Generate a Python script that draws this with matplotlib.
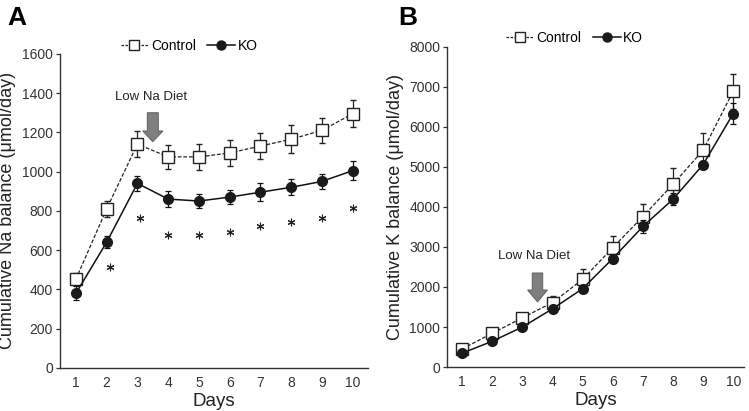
import numpy as np
import matplotlib.pyplot as plt
from matplotlib.patches import FancyArrow
from matplotlib.lines import Line2D

plt.rcParams['font.family'] = ['Liberation Sans', 'DejaVu Sans']

days = np.arange(1, 11)

# Panel A - cumulative Na balance
na_ctrl = [452, 810, 1140, 1075, 1075, 1095, 1130, 1165, 1210, 1295]
na_ctrl_err = [30, 40, 65, 60, 65, 65, 65, 70, 65, 70]
na_ko = [380, 640, 940, 860, 850, 870, 895, 920, 950, 1005]
na_ko_err = [35, 30, 40, 40, 35, 35, 45, 40, 40, 50]
star_days = [2.1, 3.1, 4, 5, 6, 7, 8, 9, 10]
star_y = [515, 765, 678, 678, 693, 724, 744, 764, 815]

# Panel B - cumulative K balance
k_ctrl = [455, 843, 1231, 1612, 2190, 2983, 3760, 4567, 5417, 6892]
k_ctrl_err = [40, 40, 50, 160, 250, 300, 320, 400, 440, 440]
k_ko = [347, 645, 1000, 1455, 1959, 2711, 3512, 4192, 5058, 6333]
k_ko_err = [40, 40, 50, 60, 60, 120, 170, 150, 100, 270]

fig = plt.figure(figsize=(7.49, 4.11), dpi=100)
axA = fig.add_axes([0.080, 0.105, 0.411, 0.764])
axB = fig.add_axes([0.597, 0.107, 0.396, 0.779])

ctrl_style = dict(color='#222222', ls=(0, (3, 1.5)), lw=0.9, marker='s',
                  mfc='white', mec='#222222', mew=1.0)
ko_style = dict(color='#111111', ls='-', lw=1.1, marker='o',
                mfc='#1a1a1a', mec='#1a1a1a')


def draw_panel(ax, ctrl, ctrl_err, ko, ko_err):
    ax.errorbar(days, ctrl, yerr=ctrl_err, ms=8, capsize=2.5, elinewidth=0.9,
                capthick=0.9, zorder=3, **ctrl_style)
    ax.errorbar(days, ko, yerr=ko_err, ms=7, capsize=2.5, elinewidth=0.9,
                capthick=0.9, zorder=4, **ko_style)
    for s in ['top', 'right']:
        ax.spines[s].set_visible(False)
    for s in ['left', 'bottom']:
        ax.spines[s].set_color('#333333')
        ax.spines[s].set_linewidth(1.0)
    ax.tick_params(axis='y', length=3, width=0.9, labelsize=10, colors='#333333', pad=2)
    ax.tick_params(axis='x', length=0, labelsize=10, colors='#333333', pad=6)
    ax.set_xticks(days)
    ax.set_xlabel('Days', fontsize=13.5, color='#222222', labelpad=2)


# Panel A
draw_panel(axA, na_ctrl, na_ctrl_err, na_ko, na_ko_err)
axA.set_xlim(0.48, 10.49)
axA.set_ylim(0, 1600)
axA.set_yticks(np.arange(0, 1601, 200))
axA.set_ylabel('Cumulative Na balance (\u03bcmol/day)', fontsize=13, color='#222222', labelpad=4)
axA.scatter(star_days, star_y, marker=(6, 2, 0), s=24, lw=0.8, color='#222222', zorder=5)
axA.add_patch(FancyArrow(3.5, 1300, 0, -148, width=0.36, head_width=0.66, head_length=55,
                         length_includes_head=True, fc='#7f7f7f', ec='#555555', lw=0.6,
                         zorder=5))
axA.text(3.45, 1380, 'Low Na Diet', ha='center', va='center', fontsize=9.5, color='#222222')

# Panel B
draw_panel(axB, k_ctrl, k_ctrl_err, k_ko, k_ko_err)
axB.set_xlim(0.5, 10.35)
axB.set_ylim(0, 8000)
axB.set_yticks(np.arange(0, 8001, 1000))
axB.set_ylabel('Cumulative K balance (\u03bcmol/day)', fontsize=13, color='#222222', labelpad=4)
axB.add_patch(FancyArrow(3.5, 2350, 0, -725, width=0.35, head_width=0.66, head_length=300,
                         length_includes_head=True, fc='#7f7f7f', ec='#555555', lw=0.6,
                         zorder=5))
axB.text(3.4, 2770, 'Low Na Diet', ha='center', va='center', fontsize=9.5, color='#222222')

# legends
leg_ctrl = dict(ctrl_style, ls=(0, (2, 1.2)))
handles = [Line2D([], [], ms=7, **leg_ctrl), Line2D([], [], ms=6.5, **ko_style)]
for ax, x, y in [(axA, 0.42, 1.025), (axB, 0.43, 1.028)]:
    ax.legend(handles=handles, labels=['Control', 'KO'], loc='center',
              bbox_to_anchor=(x, y), ncol=2, frameon=False, fontsize=10,
              handlelength=2.0, handletextpad=0.2, columnspacing=0.8,
              borderaxespad=0.0, borderpad=0.0)

fig.text(0.010, 0.985, 'A', fontsize=19, fontweight='bold', va='top', ha='left')
fig.text(0.532, 0.985, 'B', fontsize=19, fontweight='bold', va='top', ha='left')

fig.savefig('out.png', dpi=100)
